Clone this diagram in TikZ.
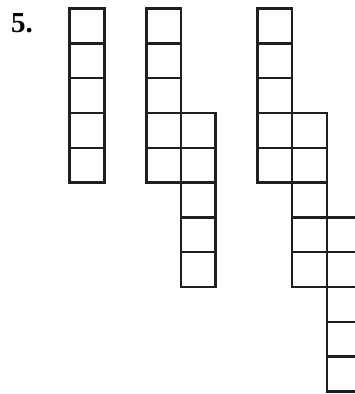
\documentclass[tikz,border=0pt]{standalone}
\usepackage{fontspec}
\setmainfont{Liberation Serif}
\begin{document}
\begin{tikzpicture}[x=1pt,y=-1pt,
  sq/.style={draw=black!88,line width=2.4pt,line join=miter},
  lbl/.style={font=\bfseries\fontsize{29}{33}\selectfont,inner sep=0pt,anchor=base west}]
\useasboundingbox (0,0) rectangle (355,394);
\clip (0,0) rectangle (355,394);
\def\hh{34.8}
\def\yo{8.6}
% column: x-left, first row index
\foreach \xl/\r in {69.6/0, 146.3/0, 180.8/3, 257.3/0, 292.1/3, 326.9/6}{
  \foreach \k in {0,...,4}{
    \draw[sq] (\xl,{\yo+(\r+\k)*\hh}) rectangle ++(\hh,\hh);
  }
}
\node[lbl] (n5) at (11,32.5) {5.};
\end{tikzpicture}
\end{document}
